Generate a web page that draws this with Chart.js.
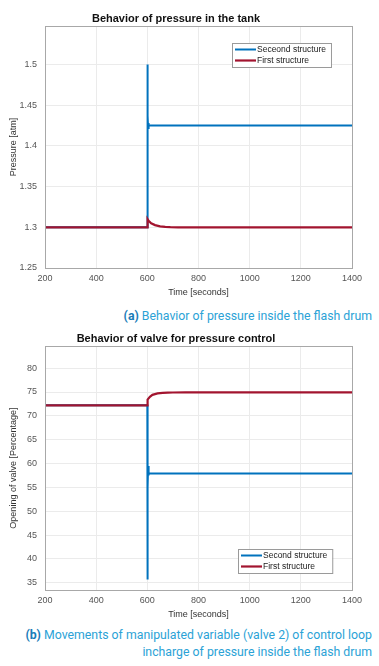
<!DOCTYPE html>
<html>
<head>
<meta charset="utf-8">
<script src="https://cdn.jsdelivr.net/npm/chart.js@4.4.0/dist/chart.umd.min.js"></script>
<style>
  body { margin:0; background:#fff; width:379px; height:666px; position:relative; overflow:hidden; }
  .wrap { position:absolute; left:0; width:379px; }
  .cap { position:absolute; right:7px; font-family:Roboto, "Noto Sans", sans-serif; font-size:12.3px; color:#2ba2d6; text-align:right; line-height:17px; white-space:nowrap; }
  .cap b { color:#1a7cb8; }
</style>
</head>
<body>
<div class="wrap" style="top:0;height:302px"><canvas id="grafPresion"></canvas></div>
<div class="cap" style="top:308px">
  <b>(a)</b> Behavior of pressure inside the flash drum</div>
<div class="wrap" style="top:320px;height:304px"><canvas id="grafValvula"></canvas></div>
<div class="cap" style="top:627px">
  <b>(b)</b> Movements of manipulated variable (valve 2) of control loop<br>incharge of pressure inside the flash drum</div>
<script>
// ---- datos ----
const xTicks = [200, 400, 600, 800, 1000, 1200, 1400]

// grafico (a) presion
const tiempoSeg1 = [200, 600, 600.01, 601, 602, 603, 604, 606, 610, 1400]
const presionSeg1 = [1.3, 1.3, 1.5, 1.41, 1.437, 1.422, 1.428, 1.425, 1.425, 1.425]
const tiempoPri1 = [200, 600, 601, 605, 615, 630, 650, 670, 690, 720, 1400]
const presionPri1 = [1.3, 1.3, 1.31, 1.308, 1.305, 1.3027, 1.3012, 1.3005, 1.3002, 1.3, 1.3]
const yTicks1 = [1.25, 1.3, 1.35, 1.4, 1.45, 1.5]

// grafico (b) valvula
const tiempoSeg2 = [200, 600, 600.01, 601, 602, 603, 604, 606, 610, 1400]
const aperturaSeg2 = [72.2, 72.2, 35.7, 64, 55, 59.5, 57.5, 57.9, 57.9, 57.9]
const tiempoPri2 = [200, 600, 601, 610, 620, 640, 660, 680, 700, 750, 1400]
const aperturaPri2 = [72.2, 72.2, 73.4, 74.0, 74.4, 74.7, 74.82, 74.88, 74.9, 74.92, 74.92]
const yTicks2 = [35, 40, 45, 50, 55, 60, 65, 70, 75, 80]

const azul = '#0072BD'
const rojo = '#A2142F'
const fuente = 'Liberation Sans, Arial, sans-serif'

function puntos(xs, ys) {
    return xs.map((x, i) => ({x: x, y: ys[i]}))
}

// caja del eje y leyenda dentro del area
const cajaLeyenda = {
    id: 'cajaLeyenda',
    afterDraw(chart, args, opts) {
        let ctx = chart.ctx
        let a = chart.chartArea
        ctx.save()
        ctx.strokeStyle = '#a8a8a8'
        ctx.lineWidth = 1
        ctx.strokeRect(Math.round(a.left) + 0.5, Math.round(a.top) + 0.5, Math.round(a.right - a.left), Math.round(a.bottom - a.top))

        ctx.font = '8.5px ' + fuente
        let ds = chart.data.datasets
        let anchoTexto = Math.max(...ds.map(d => ctx.measureText(d.label).width))
        let w = 2 + 21 + 2 + anchoTexto + 5
        let h = 24
        let x = Math.round(a.right - opts.derecha - w)
        let y = opts.pos == 'ne' ? Math.round(a.top + opts.margen) : Math.round(a.bottom - opts.margen - h)
        ctx.fillStyle = '#fff'
        ctx.fillRect(x, y, w, h)
        ctx.strokeStyle = '#9a9a9a'
        ctx.strokeRect(x + 0.5, y + 0.5, w, h)
        ctx.textBaseline = 'middle'
        ds.forEach((d, i) => {
            let fy = y + 6.5 + i * 11
            ctx.strokeStyle = d.borderColor
            ctx.lineWidth = d.borderWidth
            ctx.beginPath()
            ctx.moveTo(x + 3, fy)
            ctx.lineTo(x + 24, fy)
            ctx.stroke()
            ctx.fillStyle = '#1a1a1a'
            ctx.fillText(d.label, x + 25, fy)
        })
        ctx.restore()
    }
}

function crearGrafico(id, titulo, tituloY, series, ymin, ymax, yTicks, leyenda) {
    return new Chart(document.getElementById(id), {
        type: 'line',
        data: {
            datasets: series.map(s => ({
                label: s.label,
                data: s.data,
                borderColor: s.color,
                borderWidth: s.ancho,
                order: s.orden,
                pointRadius: 0,
                tension: 0,
                fill: false,
            }))
        },
        options: {
            animation: false,
            responsive: true,
            maintainAspectRatio: false,
            layout: { padding: { left: 0, right: 27, top: 0, bottom: 0 } },
            plugins: {
                legend: { display: false },
                tooltip: { enabled: false },
                title: {
                    display: true,
                    text: titulo,
                    color: '#111',
                    font: { family: fuente, size: 11, weight: 'bold' },
                    padding: { top: 12, bottom: 1 },
                },
                cajaLeyenda: leyenda,
            },
            scales: {
                x: {
                    type: 'linear',
                    min: 200,
                    max: 1400,
                    afterBuildTicks: s => { s.ticks = xTicks.map(v => ({value: v})) },
                    afterFit: s => { s.height = 34 },
                    grid: { color: '#ebebeb', drawTicks: false },
                    border: { color: '#a8a8a8' },
                    ticks: { color: '#555', padding: 5, maxRotation: 0, font: { family: fuente, size: 9 }, callback: v => String(v) },
                    title: { display: true, text: 'Time [seconds]', color: '#333', padding: { top: 0, bottom: 4 }, font: { family: fuente, size: 9 } },
                },
                y: {
                    min: ymin,
                    max: ymax,
                    afterBuildTicks: s => { s.ticks = yTicks.map(v => ({value: v})) },
                    afterFit: s => { s.width = 45 },
                    grid: { color: '#ebebeb', drawTicks: false },
                    border: { color: '#a8a8a8' },
                    ticks: { color: '#555', padding: 8, font: { family: fuente, size: 9 }, callback: v => String(v) },
                    title: { display: true, text: tituloY, color: '#333', padding: { top: 8, bottom: 0 }, font: { family: fuente, size: 9 } },
                },
            },
        },
        plugins: [cajaLeyenda],
    })
}

document.addEventListener('DOMContentLoaded', () => {
    crearGrafico('grafPresion', 'Behavior of pressure in the tank', 'Pressure [atm]', [
        { label: 'Seceond structure', data: puntos(tiempoSeg1, presionSeg1), color: azul, ancho: 2, orden: 1 },
        { label: 'First structure', data: puntos(tiempoPri1, presionPri1), color: rojo, ancho: 2.2, orden: 0 },
    ], 1.25, 1.547, yTicks1, { pos: 'ne', derecha: 21, margen: 17 })

    crearGrafico('grafValvula', 'Behavior of valve for pressure control', 'Opening of valve [Percentage]', [
        { label: 'Second structure', data: puntos(tiempoSeg2, aperturaSeg2), color: azul, ancho: 2, orden: 1 },
        { label: 'First structure', data: puntos(tiempoPri2, aperturaPri2), color: rojo, ancho: 2.2, orden: 0 },
    ], 33.5, 84.6, yTicks2, { pos: 'se', derecha: 20, margen: 17 })
})
</script>
</body>
</html>
